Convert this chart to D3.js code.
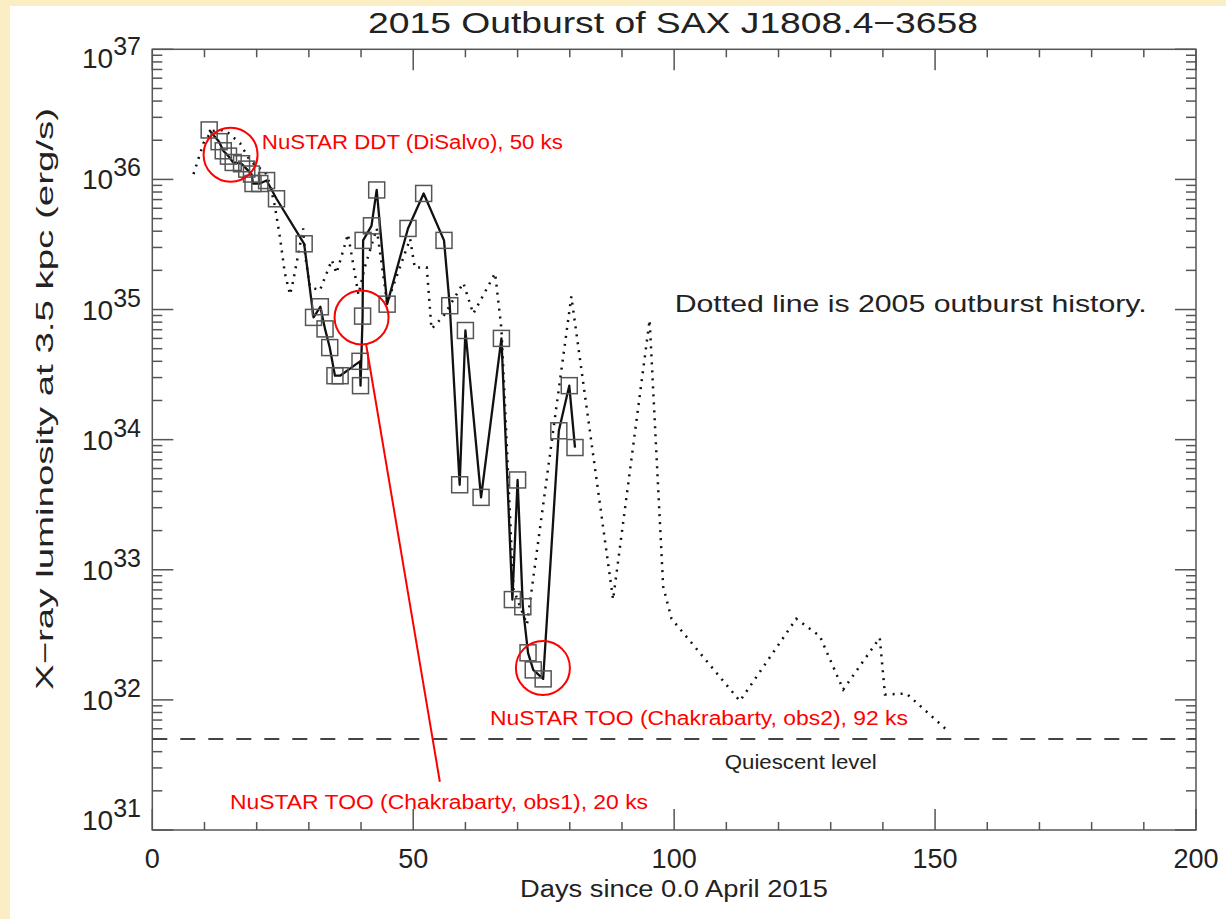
<!DOCTYPE html>
<html>
<head>
<meta charset="utf-8">
<script src="https://cdn.jsdelivr.net/npm/d3@7"></script>
<style>
  html, body { margin: 0; padding: 0; background: #fff; }
  svg text { font-family: "Liberation Sans", Arial, sans-serif; }
</style>
</head>
<body>
<div id="chart"></div>
<script>
// 2015 outburst (squares + solid line), days since 0.0 April 2015
const days2015 = [10.9, 12.8, 13.6, 14.6, 15.5, 17.1, 18.1, 19.0, 19.3, 20.6, 21.9, 23.8,
    29.1, 30.9, 32.2, 33.1, 34.0, 35.0, 36.0, 39.8, 39.9, 40.3, 40.4, 42.0, 43.0, 45.0,
    49.0, 52.0, 55.9, 57.0, 58.9, 60.0, 63.0, 66.9, 69.0, 70.0, 71.0, 72.0, 73.0, 74.9,
    77.9, 79.9, 81.0];
const lum2015 = [2.4e36, 1.95e36, 1.66e36, 1.51e36, 1.35e36, 1.32e36, 1.2e36, 1.1e36, 9.3e35, 9.3e35, 9.8e35, 7.1e35,
    3.2e35, 8.7e34, 1.05e35, 7.1e34, 5.1e34, 3.1e34, 3.1e34, 4.0e34, 2.6e34, 8.9e34, 3.4e35, 4.4e35, 8.3e35, 1.1e35,
    4.2e35, 7.8e35, 3.4e35, 1.07e35, 4.5e33, 6.9e34, 3.6e33, 6.0e34, 5.9e32, 4.9e33, 5.2e32, 2.3e32, 1.7e32, 1.45e32,
    1.17e34, 2.6e34, 8.7e33];

// 2005 outburst history (dotted line)
const days2005 = [7.9, 9.8, 11.4, 13.9, 16.8, 18.7, 20.0, 21.6, 22.5, 23.5, 24.5, 25.4, 26.4, 27.0,
    28.9, 29.3, 30.2, 32.1, 34.4, 35.3, 37.5, 39.5, 40.7, 43.0, 45.0, 49.4, 50.3, 52.6, 53.5,
    55.8, 59.6, 61.5, 65.7, 66.9, 69.2, 71.8, 80.3, 88.3, 95.3, 97.9, 99.5, 112.6, 123.4,
    127.9, 132.4, 139.4, 140.4, 144.5, 152.2];
const lum2005 = [1.1e36, 1.9e36, 2.35e36, 2.4e36, 1.9e36, 1.4e36, 1.26e36, 1.15e36, 9.3e35, 6.2e35, 3.5e35, 1.9e35, 1.3e35, 1.66e35,
    4.2e35, 2.6e35, 1.5e35, 1.4e35, 2.4e35, 1.9e35, 3.8e35, 1.3e35, 2.1e35, 4.2e35, 1.12e35, 3.5e35, 2.1e35, 2.1e35, 7.1e34,
    8.9e34, 1.6e35, 9.3e34, 1.9e35, 7.1e34, 7.1e32, 3.8e32, 1.26e35, 5.9e32, 8.3e34, 7.4e32, 4.2e32, 9.8e31, 4.2e32,
    3.1e32, 1.2e32, 3.0e32, 1.1e32, 1.12e32, 5.9e31];

const quiescentLum = 5e31;

// NuSTAR observations (red circles)
const nustarDays = [15.0, 40.1, 74.85];
const nustarLum = [1.55e36, 8.7e34, 1.76e32];

// axis ticks
const xMajorTicks = [0, 50, 100, 150, 200];
const yDecades = [31, 32, 33, 34, 35, 36, 37];

// annotations
const notes = [
    { text: 'NuSTAR DDT (DiSalvo), 50 ks', day: 21.0, lum: 1.7e36, color: 'red', size: 20, len: 301 },
    { text: 'NuSTAR TOO (Chakrabarty, obs2), 92 ks', day: 64.7, lum: 6.4e31, color: 'red', size: 20, len: 418 },
    { text: 'NuSTAR TOO (Chakrabarty, obs1), 20 ks', day: 14.9, lum: 1.45e31, color: 'red', size: 20, len: 418 },
    { text: 'Dotted line is 2005 outburst history.', day: 100.1, lum: 9.5e34, color: '#222', size: 24, len: 472 },
    { text: 'Quiescent level', day: 109.7, lum: 2.95e31, color: '#222', size: 20, len: 152 }
];
const pointerEnd = { day: 55.1, lum: 2.35e31 };

const width = 1226, height = 919;
const svg = d3.select('#chart').append('svg')
    .attr('width', width)
    .attr('height', height);

// pale frame on top and left
svg.append('rect').attr('width', width).attr('height', height).attr('fill', '#fff');
svg.append('rect').attr('width', width).attr('height', 6).attr('fill', '#fbedc4');
svg.append('rect').attr('width', 10).attr('height', height).attr('fill', '#fbedc4');

const x = d3.scaleLinear().domain([0, 200]).range([152.3, 1196]);
const y = d3.scaleLog().domain([1e31, 1e37]).range([830, 49.3]);

const axisColor = '#555';
const g = svg.append('g');

// plot frame
g.append('rect')
    .attr('x', x(0)).attr('y', y(1e37))
    .attr('width', x(200) - x(0)).attr('height', y(1e31) - y(1e37))
    .attr('fill', 'none').attr('stroke', axisColor).attr('stroke-width', 1.5);

// x ticks (inward, top and bottom)
const xMinor = d3.range(0, 201, 10).filter(d => d % 50 !== 0);
[[xMajorTicks, 21], [xMinor, 8]].forEach(([ticks, len]) => {
    g.selectAll(null).data(ticks).join('line')
        .attr('x1', d => x(d)).attr('x2', d => x(d))
        .attr('y1', y(1e31)).attr('y2', y(1e31) - len)
        .attr('stroke', axisColor).attr('stroke-width', 1.5);
    g.selectAll(null).data(ticks).join('line')
        .attr('x1', d => x(d)).attr('x2', d => x(d))
        .attr('y1', y(1e37)).attr('y2', y(1e37) + len)
        .attr('stroke', axisColor).attr('stroke-width', 1.5);
});

g.selectAll(null).data(xMajorTicks).join('text')
    .attr('x', d => x(d)).attr('y', 868)
    .attr('text-anchor', 'middle')
    .attr('font-size', 27).attr('fill', '#222')
    .text(d => d);

// y ticks (inward, left and right)
const yMajor = yDecades.map(e => Math.pow(10, e));
const yMinor = [];
yDecades.slice(0, -1).forEach(e => d3.range(2, 10).forEach(m => yMinor.push(m * Math.pow(10, e))));
[[yMajor, 21], [yMinor, 10]].forEach(([ticks, len]) => {
    g.selectAll(null).data(ticks).join('line')
        .attr('x1', x(0)).attr('x2', x(0) + len)
        .attr('y1', d => y(d)).attr('y2', d => y(d))
        .attr('stroke', axisColor).attr('stroke-width', 1.5);
    g.selectAll(null).data(ticks).join('line')
        .attr('x1', x(200)).attr('x2', x(200) - len)
        .attr('y1', d => y(d)).attr('y2', d => y(d))
        .attr('stroke', axisColor).attr('stroke-width', 1.5);
});

const yLab = g.selectAll(null).data(yDecades).join('text')
    .attr('x', 141)
    .attr('y', d => Math.min(830, Math.max(68, y(Math.pow(10, d)) + 10)))
    .attr('text-anchor', 'end')
    .attr('font-size', 28).attr('fill', '#222');
yLab.append('tspan').text('10');
yLab.append('tspan').attr('dy', -13).attr('font-size', 25).text(d => d);

// quiescent level
g.append('line')
    .attr('x1', x(0)).attr('x2', x(200))
    .attr('y1', y(quiescentLum)).attr('y2', y(quiescentLum))
    .attr('stroke', '#444').attr('stroke-width', 2)
    .attr('stroke-dasharray', '15,13');

// 2005 dotted history
const pts2005 = days2005.map((d, i) => [d, lum2005[i]]);
const line = d3.line().x(d => x(d[0])).y(d => y(d[1]));
g.append('path')
    .attr('d', line(pts2005))
    .attr('fill', 'none').attr('stroke', '#111')
    .attr('stroke-width', 2.5)
    .attr('stroke-dasharray', '2,6');

// 2015 outburst
const pts2015 = days2015.map((d, i) => [d, lum2015[i]]);
g.append('path')
    .attr('d', line(pts2015))
    .attr('fill', 'none').attr('stroke', '#111')
    .attr('stroke-width', 2.3)
    .attr('stroke-linejoin', 'round');

const sq = 16;
g.selectAll(null).data(pts2015).join('rect')
    .attr('x', d => x(d[0]) - sq / 2).attr('y', d => y(d[1]) - sq / 2)
    .attr('width', sq).attr('height', sq)
    .attr('fill', 'none').attr('stroke', '#555').attr('stroke-width', 1.5);

// NuSTAR circles
const r = 27;
const obs = nustarDays.map((d, i) => [d, nustarLum[i]]);
g.selectAll(null).data(obs).join('circle')
    .attr('cx', d => x(d[0])).attr('cy', d => y(d[1])).attr('r', r)
    .attr('fill', 'none').attr('stroke', 'red').attr('stroke-width', 2);

// pointer from obs1 circle to its label
const cx1 = x(obs[1][0]), cy1 = y(obs[1][1]);
const ex = x(pointerEnd.day), ey = y(pointerEnd.lum);
const len = Math.hypot(ex - cx1, ey - cy1);
g.append('line')
    .attr('x1', cx1 + r * (ex - cx1) / len).attr('y1', cy1 + r * (ey - cy1) / len)
    .attr('x2', ex).attr('y2', ey)
    .attr('stroke', 'red').attr('stroke-width', 2);

// annotations
g.selectAll(null).data(notes).join('text')
    .attr('x', d => x(d.day)).attr('y', d => y(d.lum))
    .attr('font-size', d => d.size).attr('fill', d => d.color)
    .attr('textLength', d => d.len).attr('lengthAdjust', 'spacingAndGlyphs')
    .text(d => d.text);

// titles
svg.append('text')
    .attr('x', 673).attr('y', 33)
    .attr('text-anchor', 'middle').attr('font-size', 30).attr('fill', '#222')
    .attr('textLength', 610).attr('lengthAdjust', 'spacingAndGlyphs')
    .text('2015 Outburst of SAX J1808.4\u22123658');

svg.append('text')
    .attr('x', 674).attr('y', 897)
    .attr('text-anchor', 'middle').attr('font-size', 23).attr('fill', '#222')
    .attr('textLength', 308).attr('lengthAdjust', 'spacingAndGlyphs')
    .text('Days since 0.0 April 2015');

svg.append('text')
    .attr('transform', 'translate(53,399) rotate(-90)')
    .attr('text-anchor', 'middle').attr('font-size', 24).attr('fill', '#222')
    .attr('textLength', 582).attr('lengthAdjust', 'spacingAndGlyphs')
    .text('X\u2212ray luminosity at 3.5 kpc (erg/s)');
</script>
</body>
</html>
